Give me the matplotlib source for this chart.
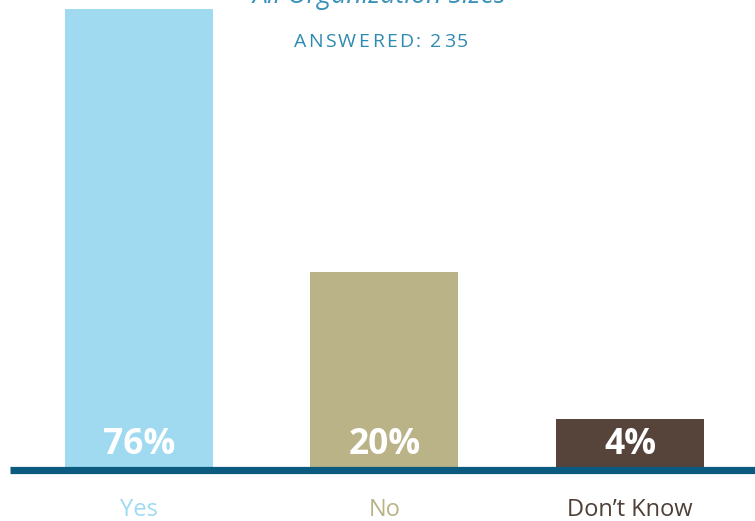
import numpy as np
import matplotlib.pyplot as plt

categories = ["Yes", "No", "Don\u2019t Know"]
shares = [76, 20, 4]
value_labels = ["76%", "20%", "4%"]
answered = 235
title = "All Organization Sizes"

bar_colors = ["#a0daf0", "#bab388", "#56433a"]
label_colors = ["#a0daf0", "#bab388", "#4e3f37"]
accent = "#3a92ba"
base_color = "#0b5a7f"

plt.rcParams["font.family"] = ["Open Sans", "DejaVu Sans"]

W, H = 755, 521
fig = plt.figure(figsize=(W / 100, H / 100), dpi=100)

# axes in pixel terms: baseline at y=470, tallest bar top at y=9
left, right, bottom, top = 10, 755, 470, 9
ax = fig.add_axes([left / W, 1 - bottom / H, (right - left) / W, (bottom - top) / H])

# compressed value axis, so small shares still read as bars
k = 23.0
ax.set_yscale("function", functions=(lambda v: np.log1p(np.maximum(v, 0) / k),
                                      lambda y: k * np.expm1(y)))
ax.set_ylim(0, max(shares))

x = np.arange(len(categories))
ax.bar(x, shares, width=0.603, color=bar_colors, zorder=2)
ax.set_xlim(-0.525, 2.509)

ax.axhline(0, color=base_color, lw=5.2, zorder=3, clip_on=False,
           solid_capstyle="butt")

for xi, lab in zip(x, value_labels):
    ax.annotate(lab, (xi, 0), xytext=(0, 18), textcoords="offset points",
                ha="center", va="center", color="white",
                fontsize=25.5, fontweight="bold", zorder=4)

for xi, cat, c in zip(x, categories, label_colors):
    ax.annotate(cat, (xi, 0), xytext=(0, -29), textcoords="offset points",
                ha="center", va="center", color=c, fontsize=17,
                annotation_clip=False)

for s in ax.spines.values():
    s.set_visible(False)
ax.set_xticks([])
ax.set_yticks([])

fig.text(379 / W, 1 - 3 / H, title, ha="center", va="baseline",
         fontsize=19.3, style="italic", color=accent)


def spaced_text(fig, cx, y, s, tracking, **kw):
    """Draw s one glyph at a time with extra tracking (pixels), centred on cx."""
    renderer = fig.canvas.get_renderer()
    widths = []
    for ch in s:
        t = fig.text(0, 0, ch, **kw)
        widths.append(t.get_window_extent(renderer).width)
        t.remove()
    total = sum(widths) + tracking * (len(s) - 1)
    xpos = cx - total / 2
    for ch, w in zip(s, widths):
        fig.text(xpos / W, y, ch, ha="left", **kw)
        xpos += w + tracking


spaced_text(fig, 381, 1 - 42 / H, f"ANSWERED: {answered}", 2.3,
            va="center", fontsize=14, color="#2f8ab2")

fig.savefig("out.png", dpi=100)
